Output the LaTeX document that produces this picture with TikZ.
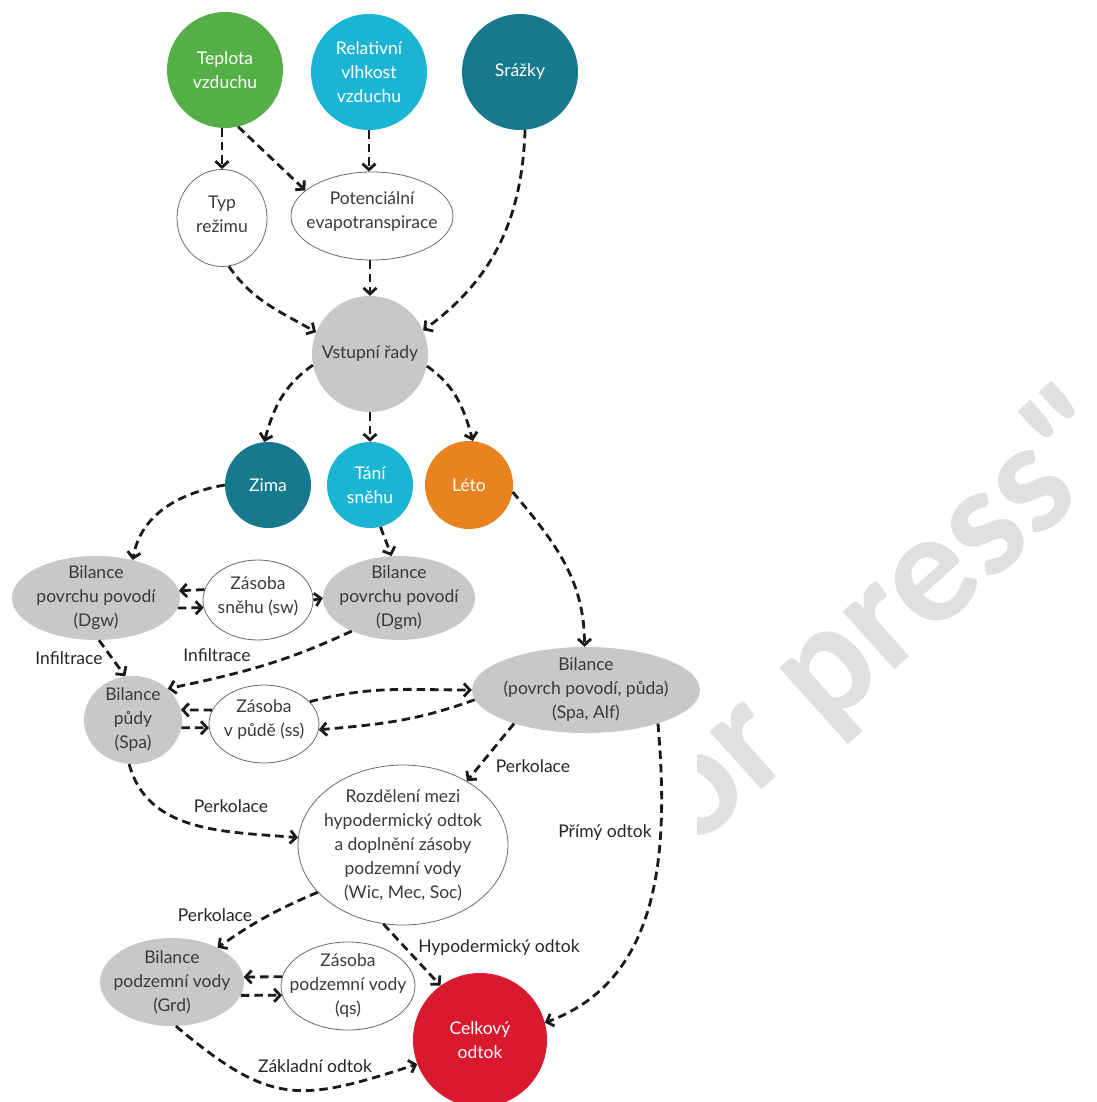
\documentclass[tikz,border=0pt]{standalone}
\usepackage{fontspec}
\setmainfont{Lato}
\newfontfamily\wmfont{Carlito}
\usetikzlibrary{arrows.meta,shapes.geometric}
\definecolor{cgreen}{HTML}{54B046}
\definecolor{ccyan}{HTML}{1BB5D3}
\definecolor{cteal}{HTML}{16798D}
\definecolor{corange}{HTML}{E8831F}
\definecolor{cred}{HTML}{D91A2E}
\definecolor{cgray}{HTML}{C8C8C8}
\definecolor{ctext}{HTML}{3A3A3A}
\definecolor{clab}{HTML}{262626}
\definecolor{cline}{HTML}{6A6A6A}
\definecolor{cdash}{HTML}{1A1A1A}
\definecolor{cwm}{HTML}{E0E0E0}
\tikzset{
  nf/.style={font=\fontsize{17.5}{24}\selectfont},
  tw/.style={label={[nf, align=center, text=white, inner sep=0pt]center:{#1}}},
  td/.style={label={[nf, align=center, text=ctext, inner sep=0pt]center:{#1}}},
  tdu/.style={label={[nf, align=center, text=ctext, inner sep=0pt, yshift=4pt]center:{#1}}},
  bub/.style={circle, inner sep=0pt},
  gel/.style={ellipse, inner sep=0pt, fill=cgray},
  wel/.style={ellipse, inner sep=0pt, fill=white, draw=cline, line width=0.8pt},
  flow/.style={draw=cdash, line width=2.8pt, dash pattern=on 8.5pt off 5pt,
    -{Straight Barb[length=6pt,width=13pt]}},
  lab/.style={nf, text=clab, inner sep=1pt},
  wmark/.style={rotate=42, text=cwm, inner sep=0pt,
    font=\wmfont\bfseries\fontsize{160}{165}\selectfont},
}
\begin{document}
\begin{tikzpicture}[x=1pt,y=1pt]
\useasboundingbox (0,0) rectangle (1096,-1102);
\fill[white] (0,0) rectangle (1096,-1102);
% watermark
\begin{scope}
\clip (697,0) rectangle (1096,-1102);
\node[wmark, anchor=base west] (wmo) at (691,-853) {o};
\node[wmark, anchor=base west] (wmr) at (wmo.base east) {r press"};
\end{scope}
% nodes
\node[bub, fill=cgreen, minimum size=116, tw={Teplota\\vzduchu}] (temp) at (225,-70) {};
\node[bub, fill=ccyan, minimum size=116, tw={Relativní\\vlhkost\\vzduchu}] (hum) at (369,-72) {};
\node[bub, fill=cteal, minimum size=116, tw={Srážky}] (rain) at (520,-72) {};
\node[wel, minimum width=90, minimum height=97, tdu={Typ\\režimu}] (typ) at (222,-218) {};
\node[wel, minimum width=162, minimum height=88, tdu={Potenciální\\evapotranspirace}] (pet) at (372,-216) {};
\node[bub, fill=cgray, minimum size=116, td={Vstupní řady}] (vst) at (370,-354) {};
\node[bub, fill=cteal, minimum size=86, tw={Zima}] (zima) at (268,-485) {};
\node[bub, fill=ccyan, minimum size=86, tw={Tání\\sněhu}] (tani) at (370,-485) {};
\node[bub, fill=corange, minimum size=88, tw={Léto}] (leto) at (469,-485) {};
\node[gel, minimum width=168, minimum height=84, td={Bilance\\povrchu povodí\\(Dgw)}] (dgw) at (96,-598) {};
\node[wel, minimum width=110, minimum height=80, tdu={Zásoba\\sněhu (sw)}] (sw) at (258,-600) {};
\node[gel, minimum width=152, minimum height=84, td={Bilance\\povrchu povodí\\(Dgm)}] (dgm) at (399,-598) {};
\node[gel, minimum width=98, minimum height=88, td={Bilance\\půdy\\(Spa)}] (spa) at (133,-720) {};
\node[wel, minimum width=110, minimum height=78, tdu={Zásoba\\v půdě (ss)}] (ss) at (264,-724) {};
\node[gel, minimum width=228, minimum height=86, td={Bilance\\(povrch povodí, půda)\\(Spa, Alf)}] (sa) at (586,-690) {};
\node[wel, minimum width=210, minimum height=160, td={Rozdělení mezi\\hypodermický odtok\\a doplnění zásoby\\podzemní vody\\(Wic, Mec, Soc)}] (roz) at (403,-845) {};
\node[gel, minimum width=144, minimum height=88, td={Bilance\\podzemní vody\\(Grd)}] (grd) at (172,-982) {};
\node[wel, minimum width=134, minimum height=88, td={Zásoba\\podzemní vody\\(qs)}] (qs) at (348,-986) {};
\node[bub, fill=cred, minimum size=134, tw={Celkový\\odtok}] (celk) at (480,-1040) {};
% connectors
\draw[flow] (typ.north |- temp.south) -- (typ.north);
\draw[flow] (temp.-77) -- (pet.159);
\draw[flow] (hum.south) -- (hum.south |- pet.north);
\draw[flow] (rain.-85) to[out=-92,in=36] (vst.24);
\draw[flow] (typ.-82) to[out=-55,in=150] (vst.158);
\draw[flow] (vst.north |- pet.south) -- (vst.north);
\draw[flow] (vst.191) to[out=215,in=75] (zima.95);
\draw[flow] (tani.north |- vst.south) -- (tani.north);
\draw[flow] (vst.-12) to[out=-35,in=105] (leto.85);
\draw[flow] (zima.180) to[out=190,in=80] (dgw.46);
\draw[flow] (tani.-76) -- (dgm.100);
\draw[flow] (leto.-9) to[out=-50,in=90] (sa.92);
\draw[flow] (sw.169) -- (dgw.5);
\draw[flow] (dgw.-7) -- (sw.188);
\draw[flow] (sw.east) -- (dgm.west);
\draw[flow] (dgw.-86) -- (spa.100);
\draw[flow] (dgm.215) to[out=205,in=12] (spa.42);
\draw[flow] (ss.165) -- (spa.12);
\draw[flow] (spa.-9) -- (ss.184);
\draw[flow] (ss.26) to[out=15,in=180] (sa.180);
\draw[flow] (sa.185) to[out=200,in=5] (ss.-6);
\draw[flow] (sa.205) -- (roz.45);
\draw[flow] (spa.-95) to[out=-75,in=175] (roz.176);
\draw[flow] (sa.-25) to[out=-85,in=20] (celk.15);
\draw[flow] (roz.209) to[out=203,in=35] (grd.37);
\draw[flow] (roz.256) -- (celk.126);
\draw[flow] (qs.172) -- (grd.4);
\draw[flow] (grd.-11) -- (qs.188);
\draw[flow] (grd.-85) to[out=-40,in=198,looseness=1.3] (celk.201);
% labels
\node[lab] (l1) at (69,-658) {Infiltrace};
\node[lab] (l2) at (217,-655) {Infiltrace};
\node[lab] (l3) at (533,-766) {Perkolace};
\node[lab] (l4) at (231,-806) {Perkolace};
\node[lab] (l5) at (605,-833) {Přímý odtok};
\node[lab] (l6) at (215,-915) {Perkolace};
\node[lab] (l7) at (499,-948) {Hypodermický odtok};
\node[lab] (l8) at (315,-1066) {Základní odtok};
\end{tikzpicture}
\end{document}
